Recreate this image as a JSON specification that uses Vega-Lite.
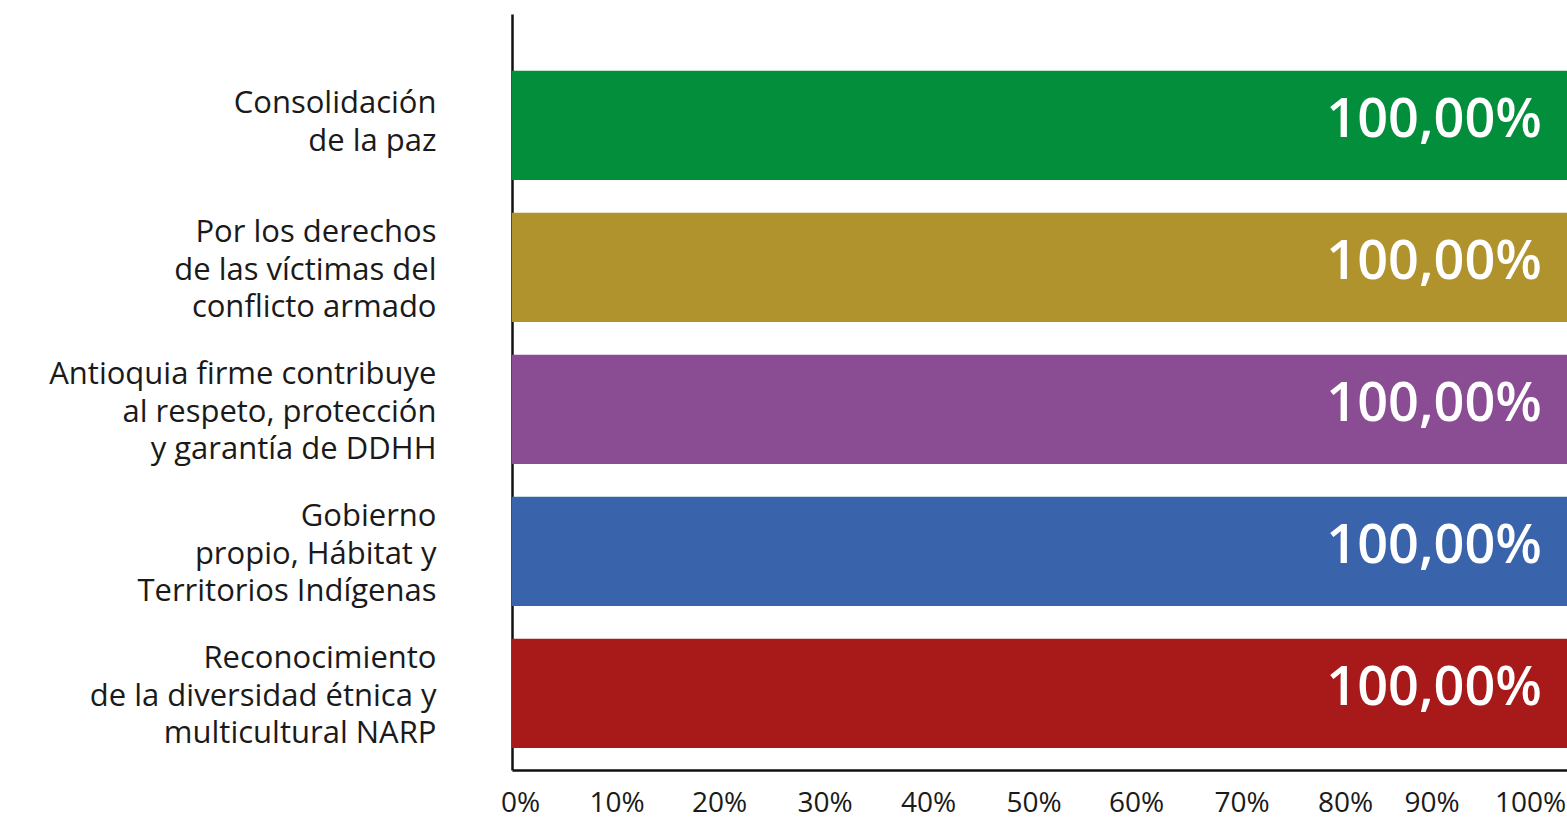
{
  "$schema": "https://vega.github.io/schema/vega-lite/v6.json",
  "width": 1055,
  "height": 756,
  "autosize": {"type": "none"},
  "padding": {"left": 512, "top": 14, "right": 0, "bottom": 50},
  "background": "white",
  "config": {"view": {"stroke": null}, "font": "Open Sans"},
  "data": {"values": [
    {"cat": "Consolidación|de la paz", "value": 1.0, "label": "100,00%"},
    {"cat": "Por los derechos|de las víctimas del|conflicto armado", "value": 1.0, "label": "100,00%"},
    {"cat": "Antioquia firme contribuye|al respeto, protección|y garantía de DDHH", "value": 1.0, "label": "100,00%"},
    {"cat": "Gobierno|propio, Hábitat y|Territorios Indígenas", "value": 1.0, "label": "100,00%"},
    {"cat": "Reconocimiento|de la diversidad étnica y|multicultural NARP", "value": 1.0, "label": "100,00%"}
  ]},
  "encoding": {
    "y": {
      "field": "cat", "type": "nominal", "sort": null, "title": null,
      "scale": {"paddingInner": 0.232, "paddingOuter": 0.278, "align": 0.72},
      "axis": {
        "labelExpr": "split(datum.label, '|')",
        "labelFontSize": 31, "labelColor": "#1a1a1a", "labelLineHeight": 37.5,
        "labelPadding": 76, "ticks": false, "domainColor": "#111111", "domainWidth": 2.5,
        "labelAlign": "right", "labelBaseline": "middle", "labelLimit": 500,
        "labelOffset": {"condition": {"test": "length(split(datum.value, '|')) == 3", "value": -34}, "value": -21}
      }
    },
    "x": {
      "field": "value", "type": "quantitative", "title": null,
      "scale": {"domain": [0, 1], "nice": false},
      "axis": {
        "format": ".0%", "values": [0, 0.1, 0.2, 0.3, 0.4, 0.5, 0.6, 0.7, 0.8, 0.9, 1.0],
        "grid": false, "ticks": false, "labelFontSize": 28, "labelColor": "#1a1a1a",
        "labelPadding": 19, "labelFlush": false, "labelBound": false, "domainColor": "#111111", "domainWidth": 2.5,
        "labelOffset": {"condition": [
          {"test": "datum.value < 0.05", "value": 8},
          {"test": "datum.value < 0.15", "value": -1},
          {"test": "datum.value < 0.35", "value": -4},
          {"test": "datum.value < 0.55", "value": -6},
          {"test": "datum.value < 0.75", "value": -9},
          {"test": "datum.value < 0.85", "value": -11},
          {"test": "datum.value < 0.95", "value": -30}
        ], "value": -37}
      }
    }
  },
  "layer": [
    {
      "mark": {"type": "bar"},
      "encoding": {
        "color": {
          "field": "cat", "type": "nominal", "legend": null,
          "scale": {
            "domain": ["Consolidación|de la paz", "Por los derechos|de las víctimas del|conflicto armado", "Antioquia firme contribuye|al respeto, protección|y garantía de DDHH", "Gobierno|propio, Hábitat y|Territorios Indígenas", "Reconocimiento|de la diversidad étnica y|multicultural NARP"],
            "range": ["#028E3B", "#B0932D", "#8A4C93", "#3964AB", "#A8191A"]
          }
        }
      }
    },
    {
      "mark": {"type": "text", "align": "right", "baseline": "middle", "dx": -25, "dy": -4, "fontSize": 54, "fontWeight": 600, "color": "white"},
      "encoding": {"text": {"field": "label"}}
    }
  ]
}
